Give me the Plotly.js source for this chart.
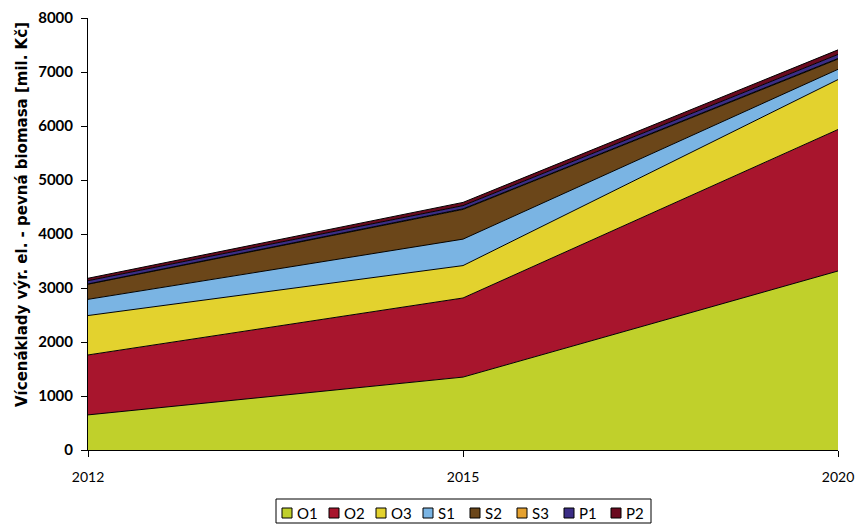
<!DOCTYPE html>
<html><head><meta charset="utf-8">
<script src="https://cdn.plot.ly/plotly-3.0.1.min.js"></script>
<style>html,body{margin:0;padding:0;background:#fff}</style>
</head><body><div id="chart" style="width:857px;height:525px"></div>
<script>
// ---- data ----
const years = ['2012', '2015', '2020'];
const seriesNames = ['O1', 'O2', 'O3', 'S1', 'S2', 'S3', 'P1', 'P2'];
const O1 = [650, 1350, 3315];
const O2 = [1110, 1465, 2620];
const O3 = [730, 600, 925];
const S1 = [300, 490, 190];
const S2 = [280, 550, 190];
const S3 = [5, 10, 10];
const P1 = [60, 60, 75];
const P2 = [45, 60, 85];
const yTickValues = [0, 1000, 2000, 3000, 4000, 5000, 6000, 7000, 8000];
const yTitle = 'Vícenáklady výr. el. - pevná biomasa [mil. Kč]';

// ---- styles ----
const seriesValues = [O1, O2, O3, S1, S2, S3, P1, P2];
const colors = ['#C0D02B', '#A8152D', '#E3D22E', '#7AB4E3', '#6B4619', '#E5A12F', '#3B2D85', '#6A0A1F'];
const W = 857, H = 525;
const M = {l: 88, r: 19, t: 18, b: 75};
const PW = W - M.l - M.r, PH = H - M.t - M.b;
const px = x => (x - M.l) / PW;
const py = y => (H - M.b - y) / PH;
const FONT = 'Lato, "DejaVu Sans", sans-serif';
const TFONT = '"DejaVu Sans", sans-serif';

const traces = seriesNames.map((name, i) => ({
  type: 'scatter', mode: 'lines', name: name,
  x: years, y: seriesValues[i],
  stackgroup: 'one',
  fillcolor: colors[i],
  line: {color: '#000', width: 1},
  showlegend: false, hoverinfo: 'x+y+name'
}));

// custom legend
const shapes = [];
const annotations = [];
const legBox = {x0: 276, x1: 651, y0: 499, y1: 523};
shapes.push({type: 'rect', xref: 'paper', yref: 'paper',
  x0: px(legBox.x0), x1: px(legBox.x1), y0: py(legBox.y0), y1: py(legBox.y1),
  line: {color: '#000', width: 1}, fillcolor: '#fff', layer: 'above'});
const legStart = 282, legStep = 47, sq = 10, legMid = 513;
seriesNames.forEach((name, i) => {
  const x0 = legStart + i * legStep;
  shapes.push({type: 'rect', xref: 'paper', yref: 'paper',
    x0: px(x0), x1: px(x0 + sq), y0: py(legMid - sq / 2), y1: py(legMid + sq / 2),
    line: {color: '#000', width: 1}, fillcolor: colors[i], layer: 'above'});
  annotations.push({xref: 'paper', yref: 'paper', x: px(x0 + sq + 3), y: py(legMid),
    xanchor: 'left', yanchor: 'middle', showarrow: false, text: name,
    font: {family: FONT, size: 15, color: '#000'}});
});
annotations.push({xref: 'paper', yref: 'paper', x: px(22), y: py(215),
  xanchor: 'center', yanchor: 'middle', showarrow: false, textangle: -90,
  text: '<b>' + yTitle + '</b>', font: {family: TFONT, size: 15, color: '#000'}});

const layout = {
  width: W, height: H, margin: M,
  paper_bgcolor: '#fff', plot_bgcolor: '#fff',
  showlegend: false,
  font: {family: FONT, color: '#000'},
  xaxis: {type: 'category', range: [0, 2], showgrid: false, zeroline: false,
    showline: true, linecolor: '#000', linewidth: 1,
    ticks: 'outside', ticklen: 6, tickcolor: '#000', ticklabelstandoff: 8,
    tickfont: {family: FONT, size: 14, color: '#000'}, fixedrange: true},
  yaxis: {range: [0, 8000], tickvals: yTickValues, ticktext: yTickValues.map(v => '<b>' + v + '</b>'),
    showgrid: false, zeroline: false,
    showline: true, linecolor: '#000', linewidth: 1,
    ticks: 'outside', ticklen: 6, tickcolor: '#000', ticklabelstandoff: 5,
    tickfont: {family: FONT, size: 15, color: '#000'}, fixedrange: true},
  shapes: shapes, annotations: annotations
};
Plotly.newPlot('chart', traces, layout, {displayModeBar: false, staticPlot: true});
</script></body></html>
